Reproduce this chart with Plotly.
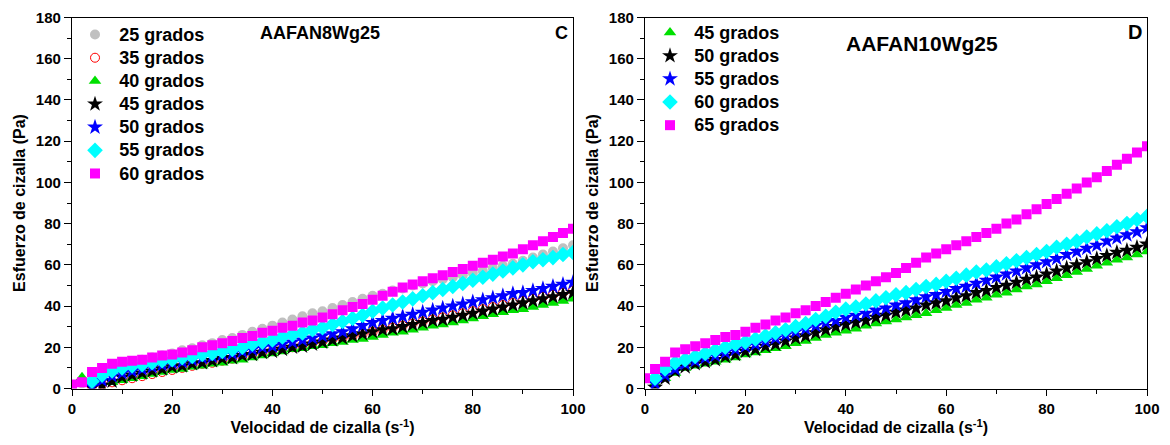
import plotly.graph_objects as go

# Shear rate (1/s) sampled every 2 units
shear_rate = [0, 2, 4, 6, 8, 10, 12, 14, 16, 18, 20, 22, 24, 26, 28, 30, 32, 34, 36, 38,
              40, 42, 44, 46, 48, 50, 52, 54, 56, 58, 60, 62, 64, 66, 68, 70, 72, 74, 76, 78,
              80, 82, 84, 86, 88, 90, 92, 94, 96, 98, 100]

# Panel C: AAFAN8Wg25, shear stress (Pa)
c_25 = [1, 2.5, 6, 8.5, 10.5, 12, 13, 14, 15, 16, 17, 18.5, 19.5, 21, 22, 23.5, 24.5, 26, 27.5, 29,
        30.5, 32, 33.5, 35, 36.5, 37.5, 39, 40.5, 42, 43.5, 45, 46, 47.5, 48.5, 50, 51, 52, 53, 54, 55,
        56, 57, 58.5, 59.5, 60.5, 62, 63.5, 65, 66.5, 68, 69.5]
c_35 = [None, None, 1, 2, 3, 4, 5, 6, 7, 8, 9, 10, 11, 12, 12.5, 13.5, 14.5, 15.5, 16.5, 17.5,
        18.5, 19.5, 20, 21, 22, 23, 24, 24.5, 25.5, 26.5, 27.5, 28.5, 29.5, 30.5, 31.5, 32.5, 33.5, 34.5, 35.5, 36.5,
        37.5, 38.5, 39.5, 40.5, 41.5, 42.5, 43.5, 44.5, 45.5, 46.5, 47.5]
c_40 = [None, 5.5, None, None, 3, 4, 5, 6, 7, 8, 9, 9.5, 10.5, 11, 12, 12.5, 13.5, 14, 15, 16,
        17, 18, 19, 19.5, 20.5, 21, 22, 22.5, 23.5, 24, 25, 26, 27, 27.5, 28.5, 29.5, 30.5, 31, 32, 33,
        34, 35, 36, 37, 38, 38.5, 39.5, 40.5, 41.5, 42.5, 43.5]
c_45 = [None, None, 0.5, 1.5, 3.5, 5.5, 6.5, 7.5, 8.5, 9.5, 10.5, 11, 12, 12.5, 13.5, 14.5, 15, 16, 16.5, 17.5,
        18, 19, 20, 20.5, 21.5, 22.5, 23.5, 24.5, 25.5, 26.5, 27.5, 28.5, 29, 30, 31, 32, 33, 33.5, 34.5, 35.5,
        36.5, 37.5, 38.5, 39.5, 40.5, 41.5, 42.5, 43.5, 44.5, 45.5, 46.5]
c_50 = [None, None, 1, 4, 6, 7.5, 8.5, 9.5, 10.5, 11.5, 12.5, 13, 14, 15, 15.5, 16.5, 17, 18, 19, 20,
        20.5, 21.5, 22.5, 23.5, 24.5, 25.5, 26.5, 27.5, 29, 30.5, 32, 33, 34, 35, 36, 37, 38, 39, 40, 41,
        42, 43, 44, 45, 46, 46.5, 47.5, 48.5, 49.5, 50.5, 51.5]
c_55 = [None, None, 3.5, 6.5, 8.5, 10, 11, 11.5, 12.5, 13.5, 14, 15, 15.5, 16.5, 17, 18, 19, 20, 21.5, 22.5,
        23.5, 25, 26, 27, 28.5, 29.5, 31, 32.5, 34, 35.5, 37.5, 39, 40.5, 42, 43.5, 45, 46.5, 48, 49.5, 51,
        52.5, 54, 55.5, 57, 58.5, 60, 61.5, 62.5, 63.5, 65, 66]
c_60 = [2, 3, 8, 10, 12, 13, 13.5, 14, 15, 16, 16.5, 17.5, 18.5, 20, 21, 22, 23, 24.5, 25.5, 27,
        28, 29.5, 30.5, 32, 33, 34.5, 36, 38, 39.5, 41, 43, 45, 47, 49, 50.5, 52, 53.5, 55, 56.5, 58,
        59.5, 61, 62.5, 64, 65.5, 67.5, 69.5, 71.5, 73.5, 75.5, 77.5]

# Panel D: AAFAN10Wg25, shear stress (Pa)
d_45 = [None, 2.5, 5, 7.5, 10, 11, 12, 13, 14, 15, 16.5, 17.5, 18.5, 19.5, 20.5, 22, 23, 24.5, 26, 27,
        28, 29, 30.5, 31.5, 32.5, 33.5, 34.5, 35.5, 36.5, 38, 39, 40.5, 41.5, 43, 44, 45.5, 46.5, 48, 49.5, 50.5,
        52, 53.5, 55, 56.5, 58, 59.5, 61, 62.5, 63.5, 65, 66.5]
d_50 = [None, 0.5, 5, 8.5, 10.5, 12, 13, 14, 15.5, 16.5, 18, 19, 20.5, 21.5, 23, 24.5, 25.5, 27, 28.5, 30,
        31, 32, 33, 34.5, 35.5, 37, 38, 39, 40.5, 41.5, 42.5, 44, 45, 46.5, 47.5, 49, 50, 51.5, 53, 54,
        55.5, 57, 58.5, 60, 61.5, 63, 64.5, 66, 67, 68.5, 70]
d_55 = [None, 2.5, 6.5, 9.5, 12, 13.5, 15, 16, 17.5, 19, 20.5, 21.5, 23, 24.5, 26, 27.5, 29, 30.5, 32, 33,
        34.5, 35.5, 36.5, 38, 39, 40.5, 41.5, 43, 44.5, 45.5, 47, 48.5, 49.5, 51, 52.5, 54, 55.5, 57, 58.5, 60,
        61.5, 63, 65, 66.5, 68, 69.5, 71.5, 73, 74.5, 76, 78]
d_60 = [None, 5, 9.5, 12.5, 14, 15.5, 17, 18.5, 20, 21.5, 22.5, 24, 25.5, 27, 28.5, 30, 31.5, 33.5, 35, 37,
        38.5, 39.5, 41, 42.5, 44, 45.5, 46.5, 48, 49.5, 50.5, 52, 53.5, 55, 56.5, 57.5, 59, 60.5, 62, 63.5, 65,
        66.5, 68.5, 70, 71.5, 73.5, 75, 76.5, 78.5, 80, 82, 83.5]
d_65 = [5, 9.5, 13, 17.5, 19, 20.5, 22, 23.5, 25, 26, 27.5, 29.5, 31, 33, 34.5, 36.5, 38, 40, 42, 44,
        46, 48, 50, 52, 54, 56, 58.5, 61, 63.5, 65.5, 67.5, 69.5, 71.5, 73.5, 75.5, 77.5, 80, 82, 84.5, 87,
        89.5, 92, 94.5, 97, 100, 102.5, 105.5, 108.5, 111.5, 114.5, 117.5]

FONT = "Liberation Sans, Arial, sans-serif"

fig = go.Figure()

panel_c = [
    ("25 grados", c_25, "circle", "#c0c0c0", 10),
    ("35 grados", c_35, "circle-open", "#ff0000", 9),
    ("40 grados", c_40, "triangle-up", "#00e000", 11),
    ("45 grados", c_45, "star", "#000000", 12),
    ("50 grados", c_50, "star", "#0000ff", 12),
    ("55 grados", c_55, "diamond", "#00ffff", 12),
    ("60 grados", c_60, "square", "#ff00ff", 10),
]
panel_d = [
    ("45 grados", d_45, "triangle-up", "#00e000", 11),
    ("50 grados", d_50, "star", "#000000", 12),
    ("55 grados", d_55, "star", "#0000ff", 12),
    ("60 grados", d_60, "diamond", "#00ffff", 12),
    ("65 grados", d_65, "square", "#ff00ff", 10),
]


def legend_label(name):
    # larger glyphs than the legend's own font, which sets the row spacing
    return "\u00a0<span style='font-size:18px'>" + name + "</span>"


for name, vals, sym, col, size in panel_c:
    fig.add_trace(go.Scatter(
        x=shear_rate, y=vals, mode="markers", name=legend_label(name),
        marker=dict(symbol=sym, color=col, size=size,
                    line=dict(width=1 if sym == "circle-open" else 0, color=col)),
        xaxis="x", yaxis="y", legend="legend",
    ))

for name, vals, sym, col, size in panel_d:
    fig.add_trace(go.Scatter(
        x=shear_rate, y=vals, mode="markers", name=legend_label(name),
        marker=dict(symbol=sym, color=col, size=size, line=dict(width=0)),
        xaxis="x2", yaxis="y2", legend="legend2",
    ))

W, H = 1170, 445
ydom = [(H - 388.5) / H, (H - 17.5) / H]


def xaxis_style(domain, anchor):
    return dict(
        domain=domain, anchor=anchor, range=[0, 100], dtick=20, tick0=0,
        showgrid=False, zeroline=False, showline=True, linecolor="black", linewidth=1.3,
        mirror=True, ticks="outside", ticklen=6, tickwidth=1.3, tickcolor="black",
        minor=dict(dtick=10, ticklen=4, tickwidth=1.3, tickcolor="black", ticks="outside", showgrid=False),
        tickfont=dict(family=FONT, size=15, color="black", weight="bold"),
        title=dict(text="Velocidad de cizalla (s<sup>-1</sup>)", standoff=6,
                   font=dict(family=FONT, size=16, color="black", weight="bold")),
        automargin=False, fixedrange=True,
    )


def yaxis_style(anchor):
    return dict(
        domain=ydom, anchor=anchor, range=[0, 180], dtick=20, tick0=0,
        showgrid=False, zeroline=False, showline=True, linecolor="black", linewidth=1.3,
        mirror=True, ticks="outside", ticklen=7, tickwidth=1.3, tickcolor="black",
        minor=dict(dtick=10, ticklen=4, tickwidth=1.3, tickcolor="black", ticks="outside", showgrid=False),
        tickfont=dict(family=FONT, size=15, color="black", weight="bold"),
        title=dict(text="Esfuerzo de cizalla (Pa)", standoff=6,
                   font=dict(family=FONT, size=16, color="black", weight="bold")),
        automargin=False, fixedrange=True,
    )


legend_common = dict(
    bgcolor="rgba(0,0,0,0)", borderwidth=0, tracegroupgap=0, itemclick=False,
    font=dict(family=FONT, size=15.5, color="black", weight="bold"),
    xanchor="left", yanchor="top", itemsizing="trace",
)


def label_font(size):
    return dict(family=FONT, size=size, color="black", weight="bold")


fig.update_layout(
    width=W, height=H,
    margin=dict(l=0, r=0, t=0, b=0),
    paper_bgcolor="white", plot_bgcolor="white",
    showlegend=True,
    xaxis=xaxis_style([72 / W, 573 / W], "y"),
    yaxis=yaxis_style("x"),
    xaxis2=xaxis_style([645 / W, 1147 / W], "y2"),
    yaxis2=yaxis_style("x2"),
    legend=dict(x=75 / W, y=1 - 18 / H, **legend_common),
    legend2=dict(x=650 / W, y=1 - 16 / H, **legend_common),
    annotations=[
        dict(text="AAFAN8Wg25", x=320 / W, y=1 - 33 / H, xref="paper", yref="paper",
             xanchor="center", yanchor="middle", showarrow=False, font=label_font(18)),
        dict(text="C", x=561 / W, y=1 - 33 / H, xref="paper", yref="paper",
             xanchor="center", yanchor="middle", showarrow=False, font=label_font(18)),
        dict(text="AAFAN10Wg25", x=922 / W, y=1 - 43 / H, xref="paper", yref="paper",
             xanchor="center", yanchor="middle", showarrow=False, font=label_font(21)),
        dict(text="D", x=1135 / W, y=1 - 32 / H, xref="paper", yref="paper",
             xanchor="center", yanchor="middle", showarrow=False, font=label_font(20)),
    ],
)

fig.write_html("out.html")
